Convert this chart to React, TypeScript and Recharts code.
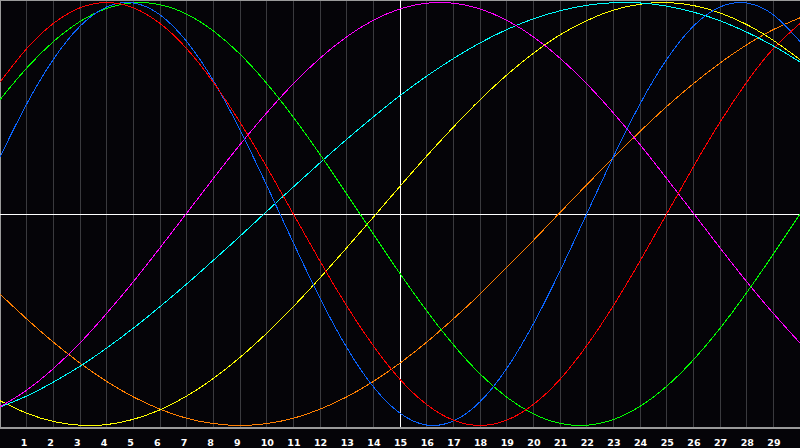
import { CartesianGrid, Line, LineChart, ReferenceLine, XAxis, YAxis } from "recharts";

// x positions 0..30, one value per integer step
const xs = [
  0, 1, 2, 3, 4, 5, 6, 7, 8, 9, 10, 11, 12, 13, 14, 15, 16, 17, 18, 19, 20, 21, 22, 23, 24, 25, 26, 27, 28, 29, 30,
];

const tickValues = [
  1, 2, 3, 4, 5, 6, 7, 8, 9, 10, 11, 12, 13, 14, 15, 16, 17, 18, 19, 20, 21, 22, 23, 24, 25, 26, 27, 28, 29,
];

const red = [
  0.623, 0.782, 0.901, 0.975, 1.0, 0.975, 0.901, 0.782, 0.623, 0.434, 0.223, 0.0, -0.223, -0.434, -0.623, -0.782,
  -0.901, -0.975, -1.0, -0.975, -0.901, -0.782, -0.623, -0.434, -0.223, 0.0, 0.223, 0.434, 0.623, 0.782, 0.901,
];
const green = [
  0.541, 0.69, 0.815, 0.91, 0.972, 0.999, 0.99, 0.945, 0.866, 0.756, 0.618, 0.458, 0.282, 0.095, -0.095, -0.282,
  -0.458, -0.618, -0.756, -0.866, -0.945, -0.99, -0.999, -0.972, -0.91, -0.815, -0.69, -0.541, -0.372, -0.19, 0.0,
];
const blue = [
  0.27, 0.52, 0.731, 0.888, 0.979, 0.998, 0.942, 0.816, 0.631, 0.398, 0.136, -0.136, -0.398, -0.631, -0.817, -0.942,
  -0.998, -0.979, -0.888, -0.731, -0.52, -0.27, 0.0, 0.27, 0.52, 0.731, 0.888, 0.979, 0.998, 0.942, 0.816,
];
const magenta = [
  -0.912, -0.833, -0.731, -0.61, -0.47, -0.32, -0.16, 0.004, 0.168, 0.328, 0.478, 0.616, 0.737, 0.838, 0.916, 0.97,
  0.997, 0.997, 0.97, 0.916, 0.838, 0.737, 0.616, 0.478, 0.328, 0.168, 0.004, -0.16, -0.32, -0.47, -0.61,
];
const cyan = [
  -0.913, -0.861, -0.795, -0.72, -0.634, -0.54, -0.438, -0.331, -0.219, -0.105, 0.012, 0.128, 0.242, 0.353, 0.459,
  0.56, 0.652, 0.735, 0.809, 0.872, 0.923, 0.961, 0.987, 0.999, 0.998, 0.983, 0.955, 0.914, 0.86, 0.795, 0.719,
];
const yellow = [
  -0.883, -0.942, -0.981, -0.999, -0.996, -0.971, -0.926, -0.861, -0.778, -0.678, -0.564, -0.438, -0.302, -0.16,
  -0.015, 0.131, 0.274, 0.411, 0.54, 0.657, 0.76, 0.847, 0.914, 0.964, 0.992, 1.0, 0.986, 0.951, 0.896, 0.821, 0.73,
];
const orange = [
  -0.379, -0.496, -0.606, -0.705, -0.792, -0.865, -0.923, -0.966, -0.991, -1.0, -0.991, -0.966, -0.923, -0.865,
  -0.792, -0.705, -0.606, -0.496, -0.379, -0.253, -0.125, 0.007, 0.138, 0.266, 0.39, 0.508, 0.616, 0.714, 0.8, 0.872,
  0.928,
];

const series = [
  { key: "orange", values: orange, color: "#ff7f00" },
  { key: "yellow", values: yellow, color: "#ffff00" },
  { key: "cyan", values: cyan, color: "#00ffff" },
  { key: "magenta", values: magenta, color: "#ff00ff" },
  { key: "green", values: green, color: "#00ff00" },
  { key: "blue", values: blue, color: "#0a64ff" },
  { key: "red", values: red, color: "#ff0000" },
];

const data = xs.map((x, i) => {
  const row: Record<string, number> = { x };
  series.forEach((s) => {
    row[s.key] = s.values[i];
  });
  return row;
});

const BG = "#050408";
const GRID = "#3a3a3e";
const FRAME = "#9a9a9a";
const Y_EDGE = 1.012;

function Tick({ x, y, payload }: { x?: number; y?: number; payload?: { value: number } }) {
  return (
    <text
      x={(x ?? 0) - 6}
      y={(y ?? 0) + 6}
      textAnchor="start"
      dominantBaseline="central"
      fill="#ffffff"
      fontSize={9.5}
      fontWeight="bold"
      fontFamily="DejaVu Sans"
    >
      {payload?.value}
    </text>
  );
}

export default function App() {
  return (
    <div style={{ position: "fixed", left: 0, top: 0, width: 800, height: 448, background: BG }}>
      {/* the reference is drawn without anti-aliasing */}
      <style>{"svg path, svg line { shape-rendering: crispEdges; }"}</style>
      <LineChart width={800} height={448} data={data} margin={{ top: 0, right: 0, bottom: 0, left: 0 }}>
        <CartesianGrid horizontal={false} stroke={GRID} strokeWidth={1} />
        <XAxis
          dataKey="x"
          type="number"
          domain={[0, 30]}
          ticks={tickValues}
          interval={0}
          height={20}
          tickLine={false}
          axisLine={{ stroke: FRAME, strokeWidth: 1.5 }}
          tick={<Tick />}
        />
        <YAxis hide domain={[-Y_EDGE, Y_EDGE]} />
        <ReferenceLine x={0} stroke={FRAME} strokeWidth={2} />
        <ReferenceLine y={Y_EDGE} stroke={FRAME} strokeWidth={2} />
        <ReferenceLine x={15} stroke="#ffffff" strokeWidth={1} />
        <ReferenceLine y={0} stroke="#ffffff" strokeWidth={1} />
        {series.map((s) => (
          <Line
            key={s.key}
            dataKey={s.key}
            type="natural"
            stroke={s.color}
            strokeWidth={1}
            dot={false}
            activeDot={false}
            isAnimationActive={false}
          />
        ))}
      </LineChart>
    </div>
  );
}
